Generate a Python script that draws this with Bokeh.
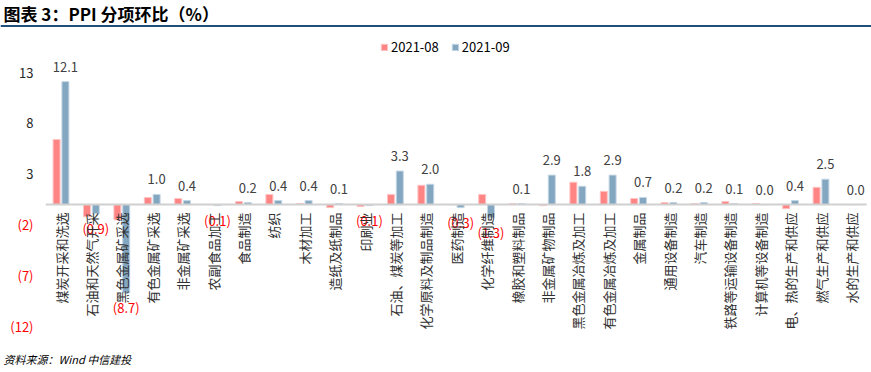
from bokeh.plotting import figure
from bokeh.models import ColumnDataSource, Label, Legend, LegendItem, Span
from bokeh.core.properties import value
from bokeh.embed import file_html
from bokeh.resources import INLINE

# ---------------- data ----------------
categories = ["煤炭开采和洗选", "石油和天然气开采", "黑色金属矿采选", "有色金属矿采选",
              "非金属矿采选", "农副食品加工", "食品制造", "纺织", "木材加工",
              "造纸及纸制品", "印刷业", "石油、煤炭等加工", "化学原料及制品制造",
              "医药制造", "化学纤维制造", "橡胶和塑料制品", "非金属矿物制品",
              "黑色金属冶炼及加工", "有色金属冶炼及加工", "金属制品", "通用设备制造",
              "汽车制造", "铁路等运输设备制造", "计算机等设备制造", "电、热的生产和供应",
              "燃气生产和供应", "水的生产和供应"]
aug = [6.4, -1.2, -1.5, 0.7, 0.6, 0.0, 0.3, 1.0, 0.1,
       -0.3, -0.2, 1.0, 1.9, 0.0, 1.0, 0.1, -0.1,
       2.2, 1.3, 0.6, 0.2, 0.1, 0.3, 0.1, -0.4,
       1.7, 0.0]
sep = [12.1, -0.9, -8.7, 1.0, 0.4, -0.1, 0.2, 0.4, 0.4,
       0.1, -0.1, 3.3, 2.0, -0.3, -1.3, 0.1, 2.9,
       1.8, 2.9, 0.7, 0.2, 0.2, 0.1, 0.0, 0.4,
       2.5, 0.0]
series_names = ["2021-08", "2021-09"]
y_ticks = [13, 8, 3, -2, -7, -12]

title_text = "图表 3：PPI 分项环比（%）"
source_text = "资料来源：Wind   中信建投"

# ---------------- style / layout ----------------
W, H = 871, 372
PINK = "#FF8585"
BLUE = "#84A7C1"
FONT = "Noto Sans CJK SC"
X0_PX, DX_PX = 60.5, 30.4          # canvas x of first category, px per category
Y_TOP_PX, Y_BOT_PX = 72.0, 326.0   # canvas y of top and bottom tick
scale = (Y_BOT_PX - Y_TOP_PX) / (y_ticks[0] - y_ticks[-1])

n = len(categories)
idx = list(range(n))
x_start = -X0_PX / DX_PX
x_end = (W - X0_PX) / DX_PX
y_end = y_ticks[0] + Y_TOP_PX / scale
y_start = y_ticks[-1] - (H - Y_BOT_PX) / scale

p = figure(width=W, height=H, x_range=(x_start, x_end), y_range=(y_start, y_end),
           toolbar_location=None, output_backend="svg", min_border=0)
p.axis.visible = False
p.grid.visible = False
p.outline_line_color = None
p.background_fill_color = "white"

OFF = 0.145
BW = 0.23
src = ColumnDataSource(dict(
    x=idx, xa=[i - OFF for i in idx], xb=[i + OFF for i in idx],
    aug=aug, sep=sep, cat=categories,
    lab=[("(%.1f)" % abs(v)) if v < 0 else ("%.1f" % v) for v in sep],
    lab_col=["#FF0000" if v < 0 else "#404040" for v in sep],
    lab_off=[15 if v < 0 else -15 for v in sep],
))

ra = p.vbar(x="xa", top="aug", bottom=0, width=BW, source=src,
            fill_color=PINK, line_color="#FFC4C4", line_width=1)
rb = p.vbar(x="xb", top="sep", bottom=0, width=BW, source=src,
            fill_color=BLUE, line_color="#C4D6E4", line_width=1)

# zero line (category axis)
p.segment(x0=[-0.5], x1=[n - 0.5], y0=[0], y1=[0], line_color="#D0D0D0", line_width=2)

# data labels (2021-09)
p.text(x="xb", y="sep", text="lab", source=src, text_color="lab_col",
       y_offset="lab_off", text_align="center", text_baseline="middle",
       text_font=value(FONT), text_font_size="13px")

# category labels
p.text(x="x", y=0, text="cat", source=src, angle=1.5707963, y_offset=8,
       text_align="right", text_baseline="middle", text_color="#303030",
       text_font=value(FONT), text_font_size="13px")

# y tick labels
for t in y_ticks:
    txt = ("(%d)" % abs(t)) if t < 0 else str(t)
    p.add_layout(Label(x=33, x_units="screen", y=t, y_units="data", text=txt,
                       text_align="right", text_baseline="middle",
                       text_color="#FF0000" if t < 0 else "#262626",
                       text_font=FONT, text_font_size="13px"))

# legend
legend = Legend(items=[LegendItem(label=series_names[0], renderers=[ra]),
                       LegendItem(label=series_names[1], renderers=[rb])],
                orientation="horizontal", location=(380, H - 56),
                glyph_width=8, glyph_height=8, label_standoff=3, spacing=12,
                padding=0, margin=0, border_line_color=None,
                background_fill_alpha=0, label_text_font=FONT,
                label_text_font_size="13px", label_height=16, label_text_color="#000000")
p.add_layout(legend, "center")

# title, rule and source
p.add_layout(Label(x=3, y=H - 13, x_units="screen", y_units="screen", text=title_text,
                   text_font=FONT, text_font_style="bold", text_font_size="17px",
                   text_baseline="middle", text_align="left", text_color="#000000"))
p.add_layout(Span(location=H - 25.5, location_units="screen", dimension="width",
                  line_color="#1F4E79", line_width=2))
p.add_layout(Label(x=3, y=H - 358, x_units="screen", y_units="screen", text=source_text,
                   text_font=FONT, text_font_style="italic", text_font_size="11px",
                   text_baseline="middle", text_align="left", text_color="#000000"))

open("out.html", "w").write(file_html(p, INLINE))
